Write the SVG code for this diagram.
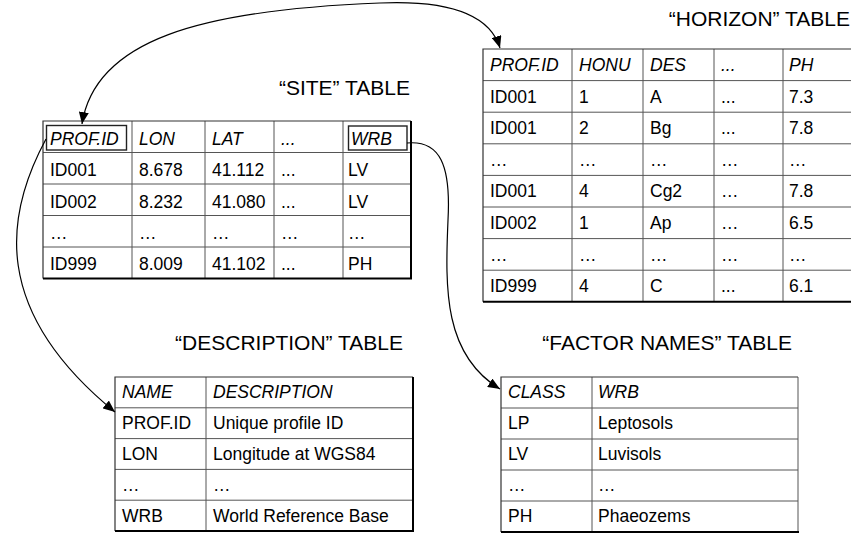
<svg xmlns="http://www.w3.org/2000/svg" width="851" height="534" viewBox="0 0 851 534">
<style>
text{font-family:"Liberation Sans",Arial,sans-serif;fill:#000}
.t{font-size:21px;text-anchor:end}
.c{font-size:17.5px}
.h{font-style:italic}
.g{stroke:#555;stroke-width:1;fill:none}
.o{stroke:#333;stroke-width:1.2;fill:none}
.b{stroke:#000;stroke-width:2;fill:none}
.k{stroke:#222;stroke-width:1.4;fill:none}
.a{stroke:#000;stroke-width:1.2;fill:none}
</style>
<defs>
<marker id="ah" viewBox="0 0 12 10" refX="12" refY="5" markerWidth="12" markerHeight="10" markerUnits="userSpaceOnUse" orient="auto-start-reverse">
<path d="M0,0 L12,5 L0,10 Z" fill="#000"/>
</marker>
</defs>

<g id="site">
<text class="t" x="410" y="95">“SITE” TABLE</text>
<path class="g" d="M43,152.5H411M43,184H411M43,215.5H411M43,247H411M132,121V278.5M205,121V278.5M274,121V278.5M343,121V278.5"/>
<path class="o" d="M43,278.5V121H411"/>
<path class="b" d="M411,121V278.5M43,278.5H412"/>
<rect class="k" x="46.5" y="125.5" width="80" height="24.5"/>
<rect class="k" x="348.5" y="126" width="58.5" height="24"/>
<g class="c h"><text x="50" y="144.5">PROF.ID</text><text x="139" y="144.5">LON</text><text x="212" y="144.5">LAT</text><text x="281" y="144.5">...</text><text x="351" y="144.5">WRB</text></g>
<g class="c"><text x="50" y="176">ID001</text><text x="139" y="176">8.678</text><text x="212" y="176">41.112</text><text x="281" y="176">...</text><text x="348" y="176">LV</text>
<text x="50" y="207.5">ID002</text><text x="139" y="207.5">8.232</text><text x="212" y="207.5">41.080</text><text x="281" y="207.5">...</text><text x="348" y="207.5">LV</text>
<text x="50" y="239">…</text><text x="139" y="239">…</text><text x="212" y="239">…</text><text x="281" y="239">…</text><text x="348" y="239">…</text>
<text x="50" y="270">ID999</text><text x="139" y="270">8.009</text><text x="212" y="270">41.102</text><text x="281" y="270">...</text><text x="348" y="270">PH</text></g>
</g>

<g id="horizon">
<text class="t" x="850" y="26">“HORIZON” TABLE</text>
<path class="g" d="M483,80.6H851M483,112.2H851M483,143.8H851M483,175.4H851M483,207H851M483,238.6H851M483,270.2H851M572,49V301.8M643,49V301.8M714,49V301.8M783,49V301.8"/>
<path class="o" d="M483,301.8V49H851"/>
<path class="b" d="M483,301.8H851"/>
<g class="c h"><text x="490" y="71">PROF.ID</text><text x="579" y="71">HONU</text><text x="650" y="71">DES</text><text x="721" y="71">...</text><text x="789" y="71">PH</text></g>
<g class="c"><text x="490" y="102.5">ID001</text><text x="579" y="102.5">1</text><text x="650" y="102.5">A</text><text x="721" y="102.5">...</text><text x="789" y="102.5">7.3</text>
<text x="490" y="134">ID001</text><text x="579" y="134">2</text><text x="650" y="134">Bg</text><text x="721" y="134">...</text><text x="789" y="134">7.8</text>
<text x="490" y="165.5">…</text><text x="579" y="165.5">…</text><text x="650" y="165.5">…</text><text x="721" y="165.5">…</text><text x="789" y="165.5">…</text>
<text x="490" y="197">ID001</text><text x="579" y="197">4</text><text x="650" y="197">Cg2</text><text x="721" y="197">…</text><text x="789" y="197">7.8</text>
<text x="490" y="229">ID002</text><text x="579" y="229">1</text><text x="650" y="229">Ap</text><text x="721" y="229">…</text><text x="789" y="229">6.5</text>
<text x="490" y="260.5">…</text><text x="579" y="260.5">…</text><text x="650" y="260.5">…</text><text x="721" y="260.5">…</text><text x="789" y="260.5">…</text>
<text x="490" y="292">ID999</text><text x="579" y="292">4</text><text x="650" y="292">C</text><text x="721" y="292">...</text><text x="789" y="292">6.1</text></g>
</g>

<g id="description">
<text class="t" x="403" y="350">“DESCRIPTION” TABLE</text>
<path class="g" d="M115,407.8H413M115,438.6H413M115,469.4H413M115,500.2H413M206,377V531"/>
<path class="o" d="M115,531V377H413"/>
<path class="b" d="M413,377V531M115,531H414"/>
<g class="c h"><text x="122" y="398">NAME</text><text x="213" y="398">DESCRIPTION</text></g>
<g class="c"><text x="122" y="429">PROF.ID</text><text x="213" y="429">Unique profile ID</text>
<text x="122" y="460">LON</text><text x="213" y="460">Longitude at WGS84</text>
<text x="122" y="491">…</text><text x="213" y="491">…</text>
<text x="122" y="522">WRB</text><text x="213" y="522">World Reference Base</text></g>
</g>

<g id="factor">
<text class="t" x="792" y="350">“FACTOR NAMES” TABLE</text>
<path class="g" d="M501,408H798M501,439H798M501,470H798M501,501H798M592,377V532M798,377V532"/>
<path class="o" d="M501,532V377H798"/>
<path class="b" d="M501,532H799"/>
<g class="c h"><text x="508" y="398">CLASS</text><text x="598" y="398">WRB</text></g>
<g class="c"><text x="508" y="429">LP</text><text x="598" y="429">Leptosols</text>
<text x="508" y="460">LV</text><text x="598" y="460">Luvisols</text>
<text x="508" y="491">…</text><text x="598" y="491">…</text>
<text x="508" y="522">PH</text><text x="598" y="522">Phaeozems</text></g>
</g>

<g id="connectors">
<path class="a" d="M82,124 C95,40 200,10 380,3 C450,0 490,15 500,48" marker-start="url(#ah)" marker-end="url(#ah)"/>
<path class="a" d="M46,139 C5,215 -10,310 115,412" marker-end="url(#ah)"/>
<path class="a" d="M407,143 C440,140 451,165 448,220 C445,290 444,355 500,389" marker-end="url(#ah)"/>
</g>
</svg>
